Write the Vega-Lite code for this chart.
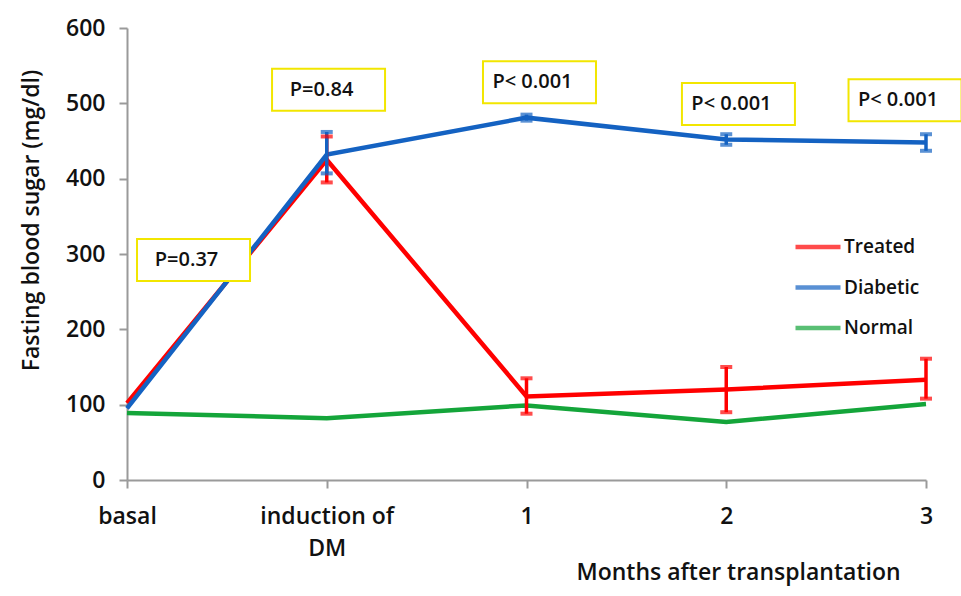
{
  "$schema": "https://vega.github.io/schema/vega-lite/v6.json",
  "autosize": "none",
  "width": 799,
  "height": 452,
  "padding": {"left": 127, "top": 28, "right": 35, "bottom": 116},
  "background": "white",
  "config": {
    "font": "Open Sans",
    "view": {"stroke": null},
    "axis": {"grid": false, "domainColor": "#9a9a9a", "tickColor": "#9a9a9a", "domainWidth": 2, "tickWidth": 2, "labelColor": "#111", "titleColor": "#111", "labelFontSize": 23, "titleFontSize": 23, "labelFontWeight": 600, "titleFontWeight": 600}
  },
  "datasets": {
    "series": [
      {"t": 0, "group": "Treated", "value": 102},
      {"t": 1, "group": "Treated", "value": 425, "lo": 395, "hi": 456},
      {"t": 2, "group": "Treated", "value": 111, "lo": 88, "hi": 135},
      {"t": 3, "group": "Treated", "value": 120, "lo": 90, "hi": 150},
      {"t": 4, "group": "Treated", "value": 133, "lo": 108, "hi": 161},
      {"t": 0, "group": "Normal", "value": 89},
      {"t": 1, "group": "Normal", "value": 82},
      {"t": 2, "group": "Normal", "value": 99},
      {"t": 3, "group": "Normal", "value": 77},
      {"t": 4, "group": "Normal", "value": 101},
      {"t": 0, "group": "Diabetic", "value": 95},
      {"t": 1, "group": "Diabetic", "value": 432, "lo": 407, "hi": 462},
      {"t": 2, "group": "Diabetic", "value": 481, "lo": 477, "hi": 485},
      {"t": 3, "group": "Diabetic", "value": 452, "lo": 445, "hi": 459},
      {"t": 4, "group": "Diabetic", "value": 448, "lo": 437, "hi": 459}
    ],
    "notes": [
      {"x": 0.333, "y": 292, "label": "P=0.37"},
      {"x": 1.009, "y": 518, "label": "P=0.84"},
      {"x": 2.065, "y": 528, "label": "P< 0.001"},
      {"x": 3.061, "y": 499, "label": "P< 0.001"},
      {"x": 3.895, "y": 504, "label": "P< 0.001"}
    ]
  },
  "layer": [
    {
      "data": {"name": "series"},
      "mark": {"type": "line", "strokeWidth": 4.5},
      "encoding": {
        "x": {"field": "t", "type": "quantitative", "scale": {"domain": [0, 4], "nice": false, "zero": false},
          "axis": {"values": [0, 1, 2, 3, 4], "tickSize": 8, "labelPadding": 17, "labelLineHeight": 32, "labelFlush": false, "labelOverlap": false,
            "labelExpr": "datum.value == 0 ? 'basal' : datum.value == 1 ? ['induction of', 'DM'] : format(datum.value - 1, 'd')",
            "title": "Months after transplantation", "titleX": 611, "titleY": 92, "titleAnchor": null, "titleAlign": "center", "titleBaseline": "middle"}},
        "y": {"field": "value", "type": "quantitative", "scale": {"domain": [0, 600], "nice": false},
          "axis": {"values": [0, 100, 200, 300, 400, 500, 600], "tickSize": 8, "labelPadding": 14, "labelFlush": false,
            "title": "Fasting blood sugar (mg/dl)", "titleX": -96, "titleY": 192, "titleAlign": "center", "titleBaseline": "middle"}},
        "color": {"field": "group", "type": "nominal",
          "scale": {"domain": ["Treated", "Diabetic", "Normal"], "range": ["#ff0000", "#1462c2", "#14a53a"]},
          "legend": {"title": null, "orient": "none", "legendX": 666, "legendY": 194, "symbolType": "stroke", "symbolSize": 2025, "symbolStrokeWidth": 4.5, "labelFontSize": 19, "labelFontWeight": 600, "labelColor": "#111", "rowPadding": 5.5, "labelOffset": 1}}
      }
    },
    {
      "data": {"name": "series"},
      "transform": [{"filter": "isValid(datum.lo)"}],
      "mark": {"type": "rule", "strokeWidth": 3.5},
      "encoding": {
        "x": {"field": "t", "type": "quantitative"},
        "y": {"field": "lo", "type": "quantitative"},
        "y2": {"field": "hi"},
        "color": {"field": "group", "type": "nominal"}
      }
    },
    {
      "data": {"name": "series"},
      "transform": [{"filter": "isValid(datum.lo)"}, {"fold": ["lo", "hi"], "as": ["end", "endValue"]}],
      "mark": {"type": "tick", "orient": "horizontal", "size": 12, "thickness": 4},
      "encoding": {
        "x": {"field": "t", "type": "quantitative"},
        "y": {"field": "endValue", "type": "quantitative"},
        "color": {"field": "group", "type": "nominal"}
      }
    },
    {
      "data": {"name": "notes"},
      "mark": {"type": "point", "shape": "M-1,-0.372L1,-0.372L1,0.372L-1,0.372Z", "size": 12769, "filled": false, "fill": "white", "fillOpacity": 1, "stroke": "#f2e600", "strokeWidth": 2, "opacity": 1},
      "encoding": {
        "x": {"field": "x", "type": "quantitative"},
        "y": {"field": "y", "type": "quantitative"}
      }
    },
    {
      "data": {"name": "notes"},
      "mark": {"type": "text", "fontSize": 20, "fontWeight": 600, "color": "#111", "dx": -7},
      "encoding": {
        "x": {"field": "x", "type": "quantitative"},
        "y": {"field": "y", "type": "quantitative"},
        "text": {"field": "label"}
      }
    }
  ]
}
